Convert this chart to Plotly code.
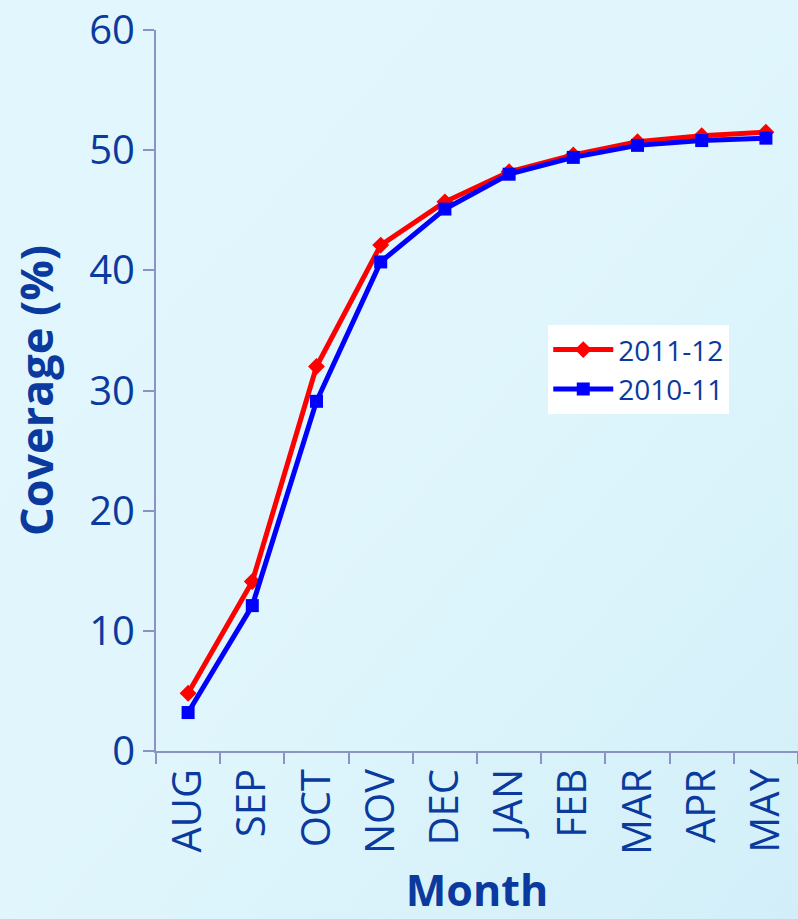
import base64
import plotly.graph_objects as go

months = ['AUG', 'SEP', 'OCT', 'NOV', 'DEC', 'JAN', 'FEB', 'MAR', 'APR', 'MAY']
cov_2011_12 = [4.8, 14.1, 32.0, 42.1, 45.7, 48.2, 49.6, 50.7, 51.2, 51.5]
cov_2010_11 = [3.2, 12.1, 29.1, 40.7, 45.1, 48.0, 49.4, 50.4, 50.8, 51.0]

navy = '#0a3a9e'
axis_col = '#8a93c4'

# soft light-blue backdrop, like a slide template
bg_svg = """<svg xmlns='http://www.w3.org/2000/svg' width='798' height='919'>
<defs><linearGradient id='g' x1='0' y1='0' x2='1' y2='1'>
<stop offset='0' stop-color='#e2f6fd'/><stop offset='0.5' stop-color='#e0f6fc'/>
<stop offset='1' stop-color='#d2eff9'/></linearGradient></defs>
<rect width='798' height='919' fill='url(#g)'/></svg>"""
bg_uri = 'data:image/svg+xml;base64,' + base64.b64encode(bg_svg.encode()).decode()

fig = go.Figure()

fig.add_trace(go.Scatter(
    x=months, y=cov_2011_12, name='2011-12', mode='lines+markers',
    line=dict(color='#ff0000', width=5),
    marker=dict(symbol='diamond', size=13, color='#ff0000'),
))
fig.add_trace(go.Scatter(
    x=months, y=cov_2010_11, name='2010-11', mode='lines+markers',
    line=dict(color='#0000ff', width=5),
    marker=dict(symbol='square', size=13, color='#0000ff'),
))

fig.update_layout(
    width=798, height=919,
    paper_bgcolor='#e0f5fc',
    plot_bgcolor='rgba(0,0,0,0)',
    font=dict(family='Open Sans', color=navy),
    margin=dict(l=156, r=0, t=30, b=168),
    images=[dict(source=bg_uri, xref='paper', yref='paper', x=-0.243, y=1.042,
                 sizex=1.243, sizey=1.275, sizing='stretch', layer='below',
                 xanchor='left', yanchor='top')],
    showlegend=True,
    legend=dict(x=0.611, y=0.591, xanchor='left', yanchor='top',
                bgcolor='white', font=dict(size=28, color=navy),
                itemwidth=60, borderwidth=0),
    xaxis=dict(
        type='category', range=[-0.5, 9.5],
        showline=True, linecolor=axis_col, linewidth=2,
        ticks='outside', tickson='boundaries', ticklen=11, tickcolor=axis_col, tickwidth=2,
        tickangle=-90, tickfont=dict(size=40, color=navy),
        showgrid=False,
        title=dict(text='<b>Month</b>', font=dict(size=43, color=navy), standoff=26),
    ),
    yaxis=dict(
        range=[0, 60], dtick=10,
        showline=True, linecolor=axis_col, linewidth=2,
        ticks='outside', ticklen=11, tickcolor=axis_col, tickwidth=2,
        tickfont=dict(size=40, color=navy),
        showgrid=False, zeroline=False,
        title=dict(text='<b>Coverage (%)</b>', font=dict(size=45, color=navy), standoff=22),
    ),
)

fig.write_html('out.html', config={'displayModeBar': False},
               post_script="document.body.style.margin='0px';")
